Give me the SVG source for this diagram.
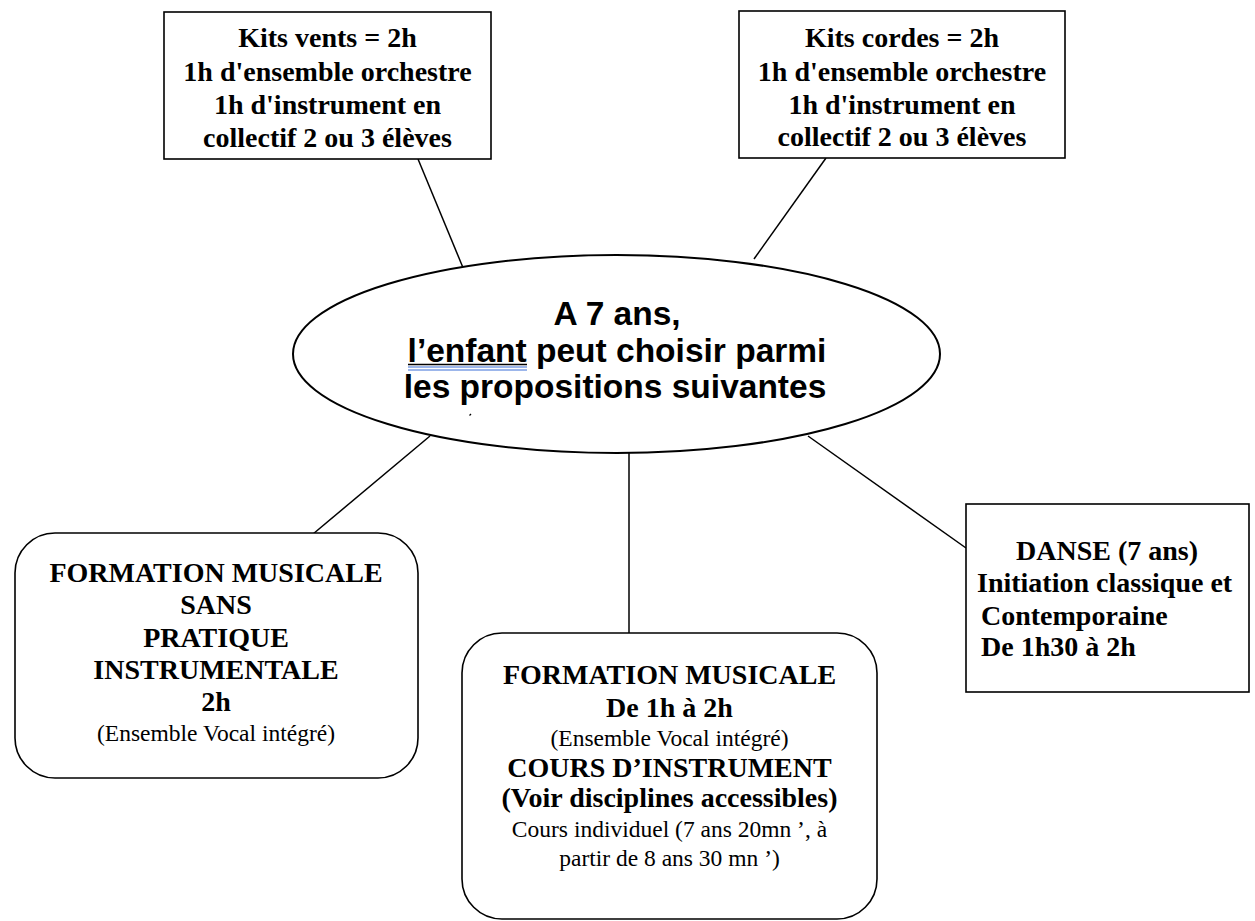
<svg xmlns="http://www.w3.org/2000/svg" width="1255" height="921" viewBox="0 0 1255 921">
<style>
.box{fill:#fff;stroke:#000;stroke-width:1.6}
.con line{stroke:#000;stroke-width:1.5}
.b{font-family:"Liberation Serif","Times New Roman",serif;font-weight:bold;font-size:28px;fill:#000;text-anchor:middle}
.bl{font-family:"Liberation Serif","Times New Roman",serif;font-weight:bold;font-size:28px;fill:#000;text-anchor:start}
.r{font-family:"Liberation Serif","Times New Roman",serif;font-size:23.5px;fill:#000;text-anchor:middle}
.s{font-family:"Liberation Sans",Arial,sans-serif;font-weight:bold;font-size:33.5px;fill:#000;text-anchor:middle}
</style>
<rect width="1255" height="921" fill="#fff"/>
<g id="connectors" class="con">
<line x1="418" y1="159" x2="462.6" y2="266.7"/>
<line x1="826" y1="158" x2="754" y2="259"/>
<line x1="430" y1="436" x2="313" y2="534"/>
<line x1="629" y1="453" x2="629" y2="633"/>
<line x1="808" y1="436" x2="966" y2="548"/>
</g>
<g id="center">
<ellipse cx="616.5" cy="354" rx="323.5" ry="99" fill="#fff" stroke="#000" stroke-width="2"/>
<text class="s" x="617" y="325">A 7 ans,</text>
<text class="s" x="617" y="362">l’enfant peut choisir parmi</text>
<text class="s" x="615" y="398">les propositions suivantes</text>
<line x1="408" y1="364.5" x2="527" y2="364.5" stroke="#000" stroke-width="1.5"/>
<line x1="408" y1="367" x2="527" y2="367" stroke="#3a6fd8" stroke-width="1.2"/>
<line x1="408" y1="370" x2="527" y2="370" stroke="#3a6fd8" stroke-width="1.2"/>
<line x1="469.5" y1="415.5" x2="471" y2="414" stroke="#000" stroke-width="1.2"/>
</g>
<g id="kits-vents">
<rect class="box" x="164" y="12" width="327" height="147"/>
<text class="b" x="327.5" y="47">Kits vents = 2h</text>
<text class="b" x="327.5" y="81">1h d'ensemble orchestre</text>
<text class="b" x="327.5" y="114">1h d'instrument en</text>
<text class="b" x="327.5" y="147">collectif 2 ou 3 élèves</text>
</g>
<g id="kits-cordes">
<rect class="box" x="739" y="11" width="326" height="147"/>
<text class="b" x="902" y="47">Kits cordes = 2h</text>
<text class="b" x="902" y="81">1h d'ensemble orchestre</text>
<text class="b" x="902" y="114">1h d'instrument en</text>
<text class="b" x="902" y="146">collectif 2 ou 3 élèves</text>
</g>
<g id="formation-sans">
<rect class="box" x="15" y="533" width="403" height="245" rx="40" ry="40"/>
<text class="b" x="216" y="582">FORMATION MUSICALE</text>
<text class="b" x="216" y="614">SANS</text>
<text class="b" x="216" y="647">PRATIQUE</text>
<text class="b" x="216" y="679">INSTRUMENTALE</text>
<text class="b" x="216" y="711">2h</text>
<text class="r" x="216" y="741">(Ensemble Vocal intégré)</text>
</g>
<g id="formation-instrument">
<rect class="box" x="462" y="633" width="415" height="286" rx="40" ry="40"/>
<text class="b" x="669.5" y="684">FORMATION MUSICALE</text>
<text class="b" x="669.5" y="717">De 1h à 2h</text>
<text class="r" x="669.5" y="746">(Ensemble Vocal intégré)</text>
<text class="b" x="669.5" y="777">COURS D’INSTRUMENT</text>
<text class="b" x="669.5" y="807">(Voir disciplines accessibles)</text>
<text class="r" x="669.5" y="837">Cours individuel (7 ans 20mn ’, à</text>
<text class="r" x="669.5" y="866">partir de 8 ans 30 mn ’)</text>
</g>
<g id="danse">
<rect class="box" x="966" y="504" width="283" height="188"/>
<text class="b" x="1107" y="560">DANSE (7 ans)</text>
<text class="bl" x="977" y="592">Initiation classique et</text>
<text class="bl" x="981" y="625">Contemporaine</text>
<text class="bl" x="981" y="656">De 1h30 à 2h</text>
</g>
</svg>
